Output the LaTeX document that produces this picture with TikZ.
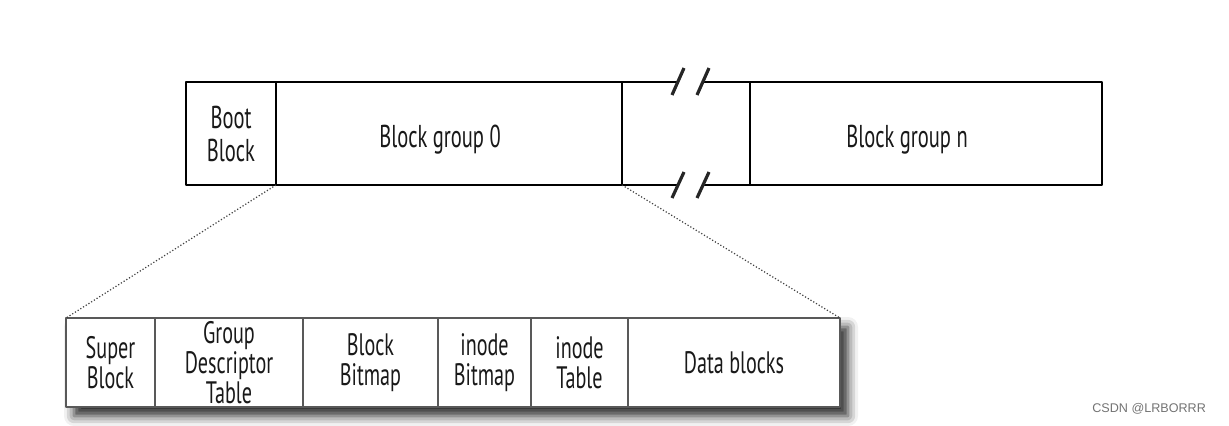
\documentclass[tikz,border=0pt]{standalone}
\usepackage{fontspec}
\setmainfont{PT Sans}[FakeStretch=0.65]
\newfontfamily\markfont{Liberation Sans}
\usetikzlibrary{positioning,shadows.blur}

\tikzset{
  topcell/.style={draw=black, line width=1pt, fill=white, inner sep=0pt, outer sep=0pt,
    minimum height=51.5pt, align=center, text=black!90, font=\fontsize{15.8}{16.5}\selectfont},
  grouptext/.style={text height=13.5pt, text depth=0pt},
  lowcell/.style={draw=black!65, line width=0.8pt, fill=white, inner sep=0pt, outer sep=0pt,
    minimum height=44.5pt, align=center, text=black!90, font=\fontsize{15.5}{15}\selectfont},
  breakmark/.style={line width=1.6pt, black!85},
  zoomline/.style={densely dotted, line width=0.6pt, black!75}
}

\begin{document}
\begin{tikzpicture}[x=0.5pt, y=-0.5pt, line join=round]
  \useasboundingbox (0,0) rectangle (1229,425);

  % the whole disk
  \node[topcell, minimum width=45pt, anchor=north west] (boot) at (186,82) {Boot\\Block};
  \node[topcell, grouptext, minimum width=173pt, right=0pt of boot] (grp0) {Block group 0\hspace*{9pt}};
  \node[topcell, draw=none, fill=none, minimum width=64pt, right=0pt of grp0] (gap) {};
  \node[topcell, grouptext, minimum width=176pt, right=0pt of gap] (grpn) {Block group n\hspace*{19pt}};

  % broken part between the groups
  \path (677,82) coordinate (t1) (703,82) coordinate (t2)
        (677,185) coordinate (b1) (703,185) coordinate (b2);
  \draw[line width=1pt] (gap.north west) -- (t1) (t2) -- (gap.north east)
        (gap.south west) -- (b1) (b2) -- (gap.south east);
  \foreach \xa in {672,697}
  {
    \draw[breakmark] (\xa,95) -- ++(12,-27);
    \draw[breakmark] (\xa,198) -- ++(12,-26);
  }

  % one block group in detail
  \path[fill=white, blur shadow={shadow xshift=4pt, shadow yshift=-4.5pt, shadow blur radius=5pt, shadow opacity=85}]
    (66,318) rectangle (840,407);
  \node[lowcell, minimum width=44.5pt, anchor=north west] (sb) at (66,318) {Super\\Block};
  \node[lowcell, minimum width=74pt, right=0pt of sb] (gdt) {Group\\Descriptor\\Table};
  \node[lowcell, minimum width=67.5pt, right=0pt of gdt] (bbm) {Block\\Bitmap};
  \node[lowcell, minimum width=46.5pt, right=0pt of bbm] (ibm) {inode\\Bitmap};
  \node[lowcell, minimum width=48.5pt, right=0pt of ibm] (itab) {inode\\Table};
  \node[lowcell, minimum width=106pt, right=0pt of itab] (data) {Data blocks};

  \draw[zoomline] (boot.south east) -- (sb.north west);
  \draw[zoomline] (grp0.south east) -- (data.north east);

  \node[anchor=east, text=black!55, font=\markfont\fontsize{6.3}{7}\selectfont] (mark) at (1213,409) {CSDN @LRBORRR};
\end{tikzpicture}
\end{document}
